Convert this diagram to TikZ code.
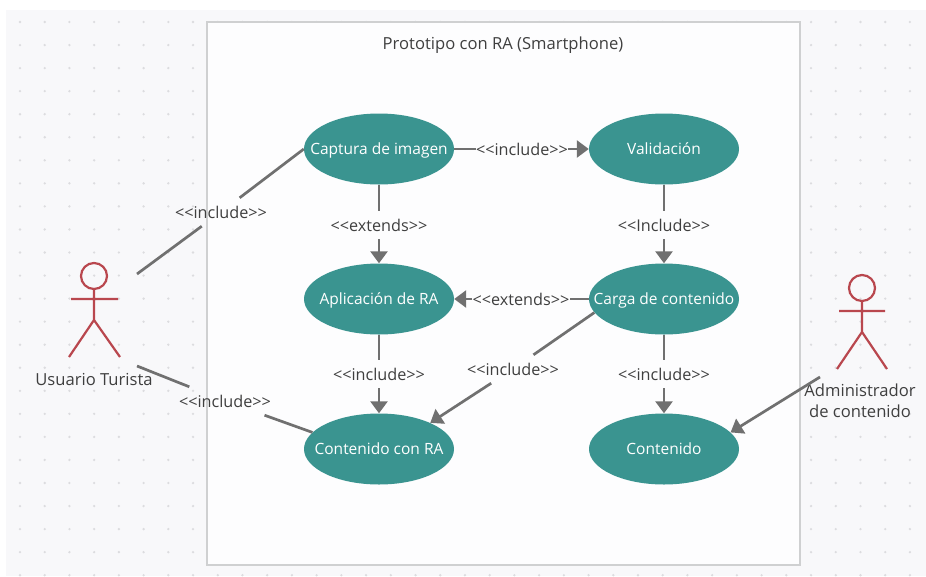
\documentclass[tikz,border=0pt]{standalone}
\usepackage{fontspec}
\setmainfont{Open Sans}
\usetikzlibrary{arrows.meta,shapes.geometric}
\definecolor{bgc}{HTML}{F8F8FA}
\definecolor{boxc}{HTML}{FDFDFE}
\definecolor{edgec}{HTML}{CFD0D1}
\definecolor{dotc}{HTML}{DCDCDF}
\definecolor{usec}{HTML}{3A9490}
\definecolor{linec}{HTML}{707070}
\definecolor{actorc}{HTML}{B9474E}
\definecolor{textc}{HTML}{3F3F3F}
\newcommand{\uctext}[1]{\makebox[0pt]{\raisebox{-2pt}{\vphantom{Ág}#1}}}
\tikzset{
  usecase/.style={ellipse,fill=usec,text=white,minimum width=150pt,minimum height=71pt,inner sep=0pt,font=\fontsize{15.5}{18}\selectfont},
  rel/.style={text=textc,inner sep=0pt,minimum height=28pt,font=\fontsize{16.2}{19}\selectfont},
  txt/.style={text=textc,inner sep=0pt,align=center,font=\fontsize{16.6}{21}\selectfont},
  link/.style={draw=linec,line width=2.7pt},
  arrowlink/.style={link,-{Triangle[length=12pt,width=17pt]}},
  actor/.style={draw=actorc,line width=2.2pt}
}
\newcommand{\incl}{<{}<include>{}>}
\newcommand{\Incl}{<{}<Include>{}>}
\newcommand{\extd}{<{}<extends>{}>}
\begin{document}
\begin{tikzpicture}[x=1pt,y=-1pt]
\useasboundingbox (0,0) rectangle (926,576);
\fill[white] (0,0) rectangle (926,576);
\fill[bgc] (6,10) rectangle (926,576);
\foreach \r in {0,...,24}{
  \foreach \c in {0,...,36}{
    \fill[dotc] ({20+24.72*\c},{22+23.05*\r}) circle (1.3pt);
  }
}
\draw[draw=edgec,fill=boxc,line width=2pt] (207,22) rectangle (800,565);
\node[txt] (title) at (503,45) {Prototipo con RA (Smartphone)};

\node[usecase] (cap) at (379,149) {\uctext{Captura de imagen}};
\node[usecase] (val) at (664,149) {\uctext{Validación}};
\node[usecase] (apl) at (379,299) {\uctext{Aplicación de RA}};
\node[usecase] (car) at (664,299) {\uctext{Carga de contenido}};
\node[usecase] (cra) at (379,449) {\uctext{Contenido con RA}};
\node[usecase] (con) at (664,449) {\uctext{Contenido}};

\node[rel] (l1) at (221,212) {\incl};
\node[rel] (l2) at (225,401) {\incl};
\node[rel] (l3) at (522,149) {\incl};
\node[rel] (l4) at (379,225) {\extd};
\node[rel] (l5) at (664,225) {\Incl};
\node[rel] (l6) at (521,299) {\extd};
\node[rel] (l7) at (379,374) {\incl};
\node[rel] (l8) at (664,374) {\incl};
\node[rel] (l9) at (513,369) {\incl};

% actors
\coordinate (ua) at (94,276);
\draw[actor] (ua) circle (13pt);
\draw[actor] (94,289) -- (94,320) (71,299) -- (118,299) (69,357) -- (94,320) -- (120,357);
\node[txt] (ut) at (94,379) {Usuario Turista};
\coordinate (ub) at (862,288);
\draw[actor] (ub) circle (13pt);
\draw[actor] (862,301) -- (862,332) (839,311) -- (885,311) (837,369) -- (862,332) -- (887,369);
\node[txt] (ad) at (860,401) {Administrador\\de contenido};

\coordinate (u1) at (137,274);
\coordinate (u2) at (137,366);
\coordinate (a1) at (820,377);

\draw[link] (u1) -- (l1);
\draw[link] (l1) -- (cap.west);
\draw[link] (u2) -- (l2);
\draw[link] (l2) -- (cra.166);
\draw[link] (cap.east) -- (l3);
\draw[arrowlink] (l3) -- (val.west);
\draw[link] (cap.south) -- (l4);
\draw[arrowlink] (l4) -- (apl.north);
\draw[link] (val.south) -- (l5);
\draw[arrowlink] (l5) -- (car.north);
\draw[link] (car.west) -- (l6);
\draw[arrowlink] (l6) -- (apl.east);
\draw[link] (apl.south) -- (l7);
\draw[arrowlink] (l7) -- (cra.north);
\draw[link] (car.south) -- (l8);
\draw[arrowlink] (l8) -- (con.north);
\draw[link] (car.191) -- (l9);
\draw[arrowlink] (l9) -- (cra.27);
\draw[arrowlink] (a1) -- (con.14);
\end{tikzpicture}
\end{document}
